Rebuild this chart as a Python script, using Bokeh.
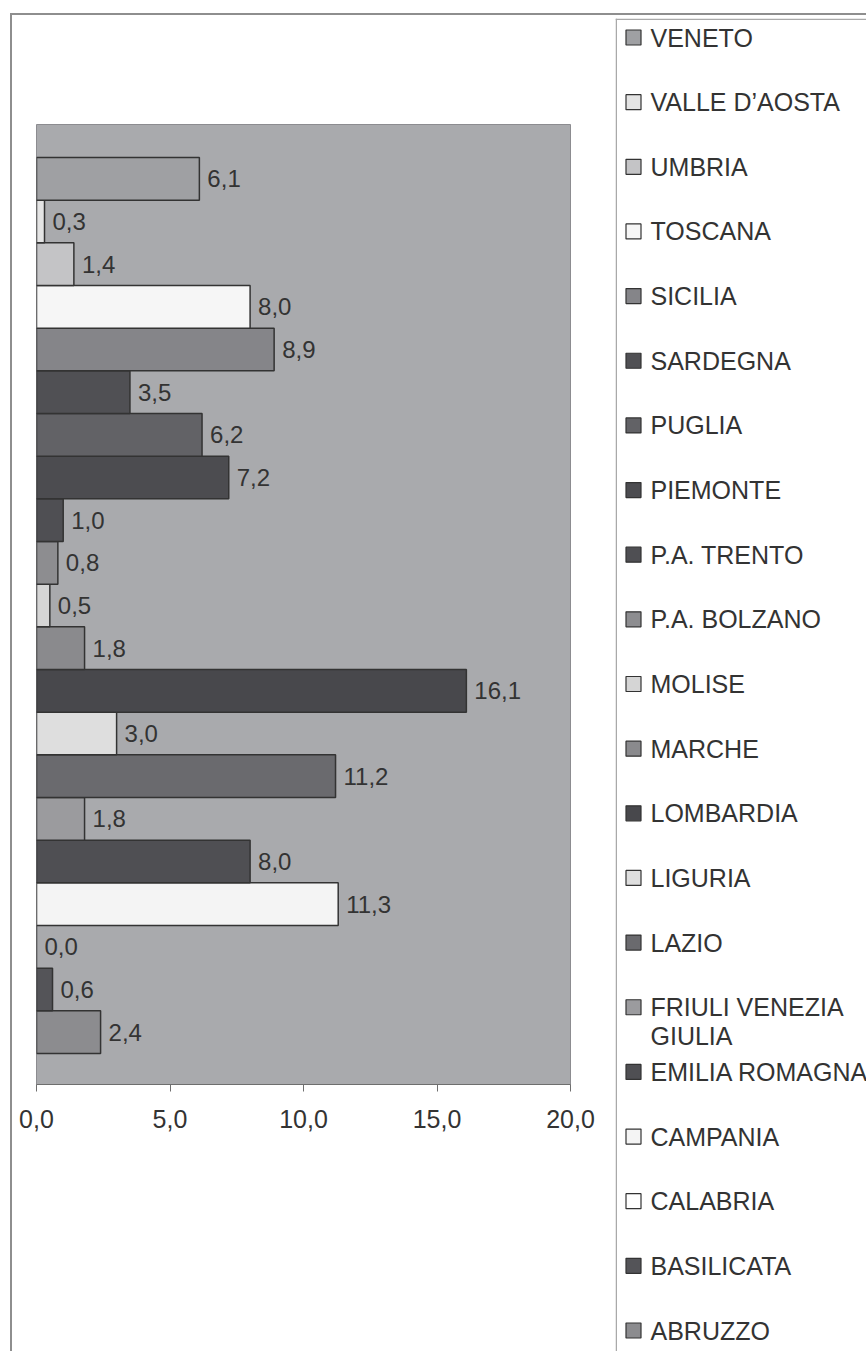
from bokeh.plotting import figure
from bokeh.models import ColumnDataSource, Range1d, FixedTicker, CustomJSTickFormatter, Span
from bokeh.layouts import row
from bokeh.embed import file_html
from bokeh.resources import INLINE
from bokeh.core.properties import value

# ---- data (bottom to top, as drawn) ----
regions = ["ABRUZZO", "BASILICATA", "CALABRIA", "CAMPANIA", "EMILIA ROMAGNA",
           "FRIULI VENEZIA GIULIA", "LAZIO", "LIGURIA", "LOMBARDIA", "MARCHE",
           "MOLISE", "P.A. BOLZANO", "P.A. TRENTO", "PIEMONTE", "PUGLIA",
           "SARDEGNA", "SICILIA", "TOSCANA", "UMBRIA", "VALLE D\u2019AOSTA", "VENETO"]
values = [2.4, 0.6, 0.0, 11.3, 8.0,
          1.8, 11.2, 3.0, 16.1, 1.8,
          0.5, 0.8, 1.0, 7.2, 6.2,
          3.5, 8.9, 8.0, 1.4, 0.3, 6.1]
colors = ["#8c8c8f", "#545458", "#ffffff", "#f4f4f4", "#4f4f53",
          "#9b9b9e", "#6a6a6e", "#dedede", "#48484c", "#8a8a8d",
          "#d5d5d5", "#8d8d90", "#4f4f53", "#4c4c50", "#626266",
          "#505054", "#858589", "#f6f6f6", "#c4c4c6", "#e4e4e4", "#9fa0a3"]
legend_labels = ["ABRUZZO", "BASILICATA", "CALABRIA", "CAMPANIA", "EMILIA ROMAGNA",
                 "FRIULI VENEZIA\nGIULIA", "LAZIO", "LIGURIA", "LOMBARDIA", "MARCHE",
                 "MOLISE", "P.A. BOLZANO", "P.A. TRENTO", "PIEMONTE", "PUGLIA",
                 "SARDEGNA", "SICILIA", "TOSCANA", "UMBRIA", "VALLE D\u2019AOSTA", "VENETO"]
x_ticks = [0, 5, 10, 15, 20]

FONT = "Liberation Sans"
TXT = "#333333"

n = len(regions)
idx = list(range(n))
labels = [f"{v:.1f}".replace(".", ",") for v in values]

src = ColumnDataSource(dict(y=idx, v=values, c=colors, lab=labels, name=regions))

H = 1336
p1 = figure(width=603, height=H,
            x_range=Range1d(0, 20), y_range=Range1d(-0.5 - 0.727, n - 0.5 + 0.773),
            min_border_left=24, min_border_right=45, min_border_top=109, min_border_bottom=H - 1069,
            toolbar_location=None, output_backend="svg", y_axis_location=None,
            background_fill_color="#a9aaad", border_fill_color="white",
            outline_line_color="#8c8c90", outline_line_width=1)
p1.frame_align = False
p1.hbar(y="y", left=0, right="v", height=1.0, fill_color="c",
        line_color="#333333", line_width=1.5, source=src)
p1.text(x="v", y="y", text="lab", x_offset=8, text_baseline="middle", text_align="left",
        text_font=value(FONT), text_font_size="24px", text_color=TXT, source=src)

ax = p1.xaxis[0]
ax.ticker = FixedTicker(ticks=x_ticks)
ax.formatter = CustomJSTickFormatter(code="return tick.toFixed(1).replace('.', ',');")
ax.major_tick_out = 7
ax.major_tick_in = 0
ax.minor_tick_out = 0
ax.minor_tick_in = 0
ax.axis_line_color = "#6e6e6e"
ax.major_tick_line_color = "#6e6e6e"
ax.major_label_text_font = FONT
ax.major_label_text_font_size = "25px"
ax.major_label_text_color = TXT
ax.major_label_standoff = 18
p1.grid.visible = False

# ---- legend panel ----
px_per_item = 64.65
W2 = 251
top_border = 3
p2_top = (n - 1) + 19 / px_per_item
p2_bottom = p2_top - (H - top_border) / px_per_item
p2 = figure(width=W2, height=H, x_range=Range1d(0, W2), y_range=Range1d(p2_bottom, p2_top),
            min_border_left=0, min_border_right=0, min_border_top=top_border, min_border_bottom=0,
            toolbar_location=None, output_backend="svg",
            x_axis_location=None, y_axis_location=None, outline_line_color=None,
            background_fill_color="white", border_fill_color="white")
p2.frame_align = False
p2.grid.visible = False

p2.scatter(x=18, y="y", marker="square", size=15, fill_color="c",
           line_color="#333333", line_width=1.2, source=src)

ty, tt, to = [], [], []
for i, lab in enumerate(legend_labels):
    for j, line in enumerate(lab.split("\n")):
        ty.append(i)
        tt.append(line)
        to.append(29 * j)
tsrc = ColumnDataSource(dict(y=ty, t=tt, o=to))
p2.text(x=35, y="y", text="t", y_offset="o", text_baseline="middle", text_align="left",
        text_font=value(FONT), text_font_size="25px", text_color=TXT, source=tsrc)

p2.add_layout(Span(location=0.75, dimension="height", line_color="#a9a9a9", line_width=1.5))
p2.add_layout(Span(location=p2_top - 0.75 / px_per_item, dimension="width",
                   line_color="#a9a9a9", line_width=1.5))

layout = row(p1, p2, spacing=0, margin=(13, 0, 0, 10),
             styles={"border-top": "2px solid #8e8e8e", "border-left": "2px solid #8e8e8e"})

open("out.html", "w").write(file_html(layout, INLINE))
